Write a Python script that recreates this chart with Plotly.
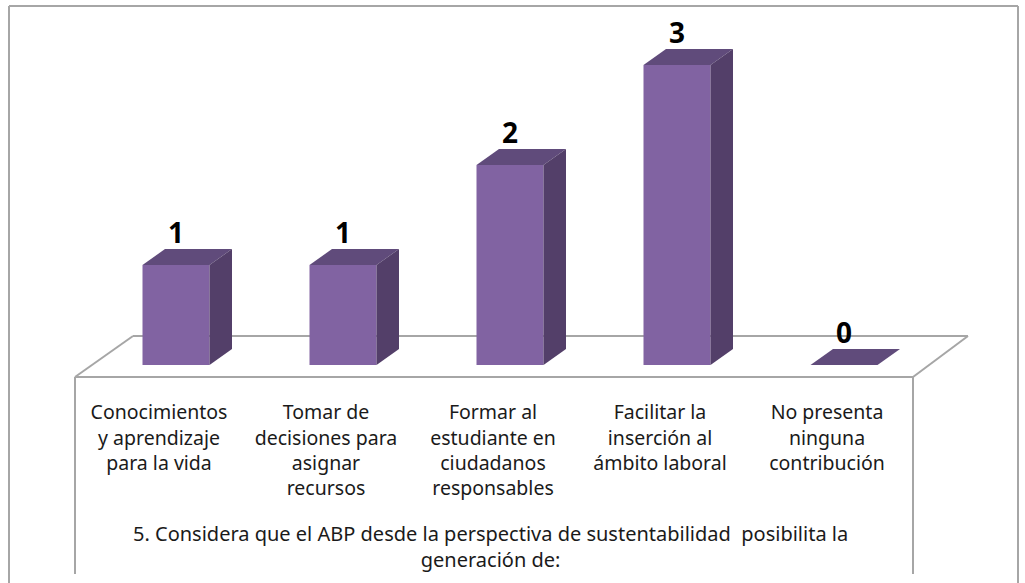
import plotly.graph_objects as go

categories = [
    "Conocimientos<br>y aprendizaje<br>para la vida",
    "Tomar de<br>decisiones para<br>asignar<br>recursos",
    "Formar al<br>estudiante en<br>ciudadanos<br>responsables",
    "Facilitar la<br>inserción al<br>ámbito laboral",
    "No presenta<br>ninguna<br>contribución",
]
values = [1, 1, 2, 3, 0]
title_text = "5. Considera que el ABP desde la perspectiva de sustentabilidad  posibilita la<br>generación de:"

FRONT, TOP, SIDE = "#8163A2", "#604B7B", "#533F69"
LINE = "#A6A6A6"
W, H = 1025, 583
BASE_PX = 365          # pixel row of value 0
UNIT_PX = 100          # pixels per unit
SPACING = 167          # pixels between categories
FIRST_PX = 176         # pixel column of first bar centre
BAR_W = 67 / SPACING
DX = 22.5 / SPACING    # depth in x units
DY = 16 / UNIT_PX      # depth in y units
HALF = BAR_W / 2
FONT = "Noto Sans"

idx = list(range(len(values)))
fig = go.Figure()

# front faces
fig.add_trace(go.Bar(x=idx, y=values, width=BAR_W, marker=dict(color=FRONT, line=dict(width=0)),
                     hoverinfo="skip"))

# top and side faces derived from the values
for i, v in zip(idx, values):
    l, r = i - HALF, i + HALF
    fig.add_trace(go.Scatter(x=[l, r, r + DX, l + DX, l], y=[v, v, v + DY, v + DY, v], mode="lines",
                             fill="toself", fillcolor=TOP, line=dict(width=0), hoverinfo="skip"))
    if v > 0:
        fig.add_trace(go.Scatter(x=[r, r + DX, r + DX, r, r], y=[0, DY, v + DY, v, 0], mode="lines",
                                 fill="toself", fillcolor=SIDE, line=dict(width=0), hoverinfo="skip"))

# data labels
fig.add_trace(go.Scatter(x=idx, y=[v + 0.29 for v in values], mode="text",
                         text=[str(v) for v in values], textposition="middle center",
                         textfont=dict(family=FONT, size=28, color="#000000", weight="bold"),
                         hoverinfo="skip"))


def px(x):
    return x / W


def py(y):
    return (BASE_PX - y) / BASE_PX


def seg(x0, y0, x1, y1, width=2, layer="below", color=LINE):
    return dict(type="line", xref="paper", yref="paper", x0=px(x0), y0=py(y0), x1=px(x1), y1=py(y1),
                line=dict(color=color, width=width), layer=layer)


shapes = [
    seg(9, 6, 1018, 6), seg(9, 6, 9, 583), seg(1018, 6, 1018, 583),
    seg(133, 336, 968, 336), seg(133, 336, 75, 377), seg(968, 336, 913, 377),
    seg(75, 377, 913, 377), seg(75, 377, 75, 574), seg(913, 377, 913, 574),
]

fig.update_layout(
    width=W, height=H, showlegend=False, paper_bgcolor="white", plot_bgcolor="rgba(0,0,0,0)",
    margin=dict(l=0, r=0, t=0, b=H - BASE_PX, autoexpand=False),
    shapes=shapes,
    xaxis=dict(range=[-FIRST_PX / SPACING, (W - FIRST_PX) / SPACING], tickmode="array",
               tickvals=[i - 17 / SPACING for i in idx], ticktext=categories,
               ticks="outside", ticklen=30, tickcolor="rgba(0,0,0,0)", showgrid=False, zeroline=False,
               showline=False, tickangle=0,
               tickfont=dict(family=FONT, size=19.5, color="#1A1A1A")),
    yaxis=dict(range=[0, BASE_PX / UNIT_PX], visible=False, showgrid=False, zeroline=False),
    annotations=[dict(xref="paper", yref="paper", x=px(490), y=py(546), text=title_text, showarrow=False,
                      xanchor="center", yanchor="middle", align="center",
                      font=dict(family=FONT, size=20, color="#1A1A1A"))],
)

fig.write_html("out.html", config={"displayModeBar": False},
               post_script="document.body.style.margin='0';document.body.style.overflow='hidden';")
